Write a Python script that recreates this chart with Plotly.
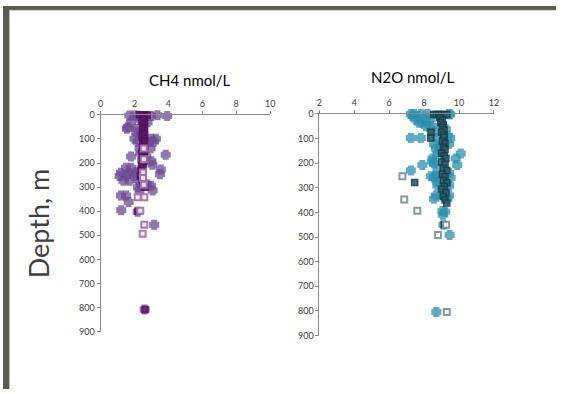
import plotly.graph_objects as go

W, H = 561, 394

# ---------------- data ----------------
# CH4 (nmol/L) vs depth (m)
ch4_mid_val = [1.7, 2.0, 2.2, 2.97, 3.35, 3.93, 1.8, 2.77, 1.6, 1.55, 2.13, 2.1, 2.0, 2.97, 3.26,
               2.2, 2.87, 3.13, 2.3, 2.95, 3.84, 1.8, 2.7, 3.0, 3.06, 1.5, 1.8, 3.55, 1.2, 1.65,
               2.05, 1.12, 1.51, 2.0, 3.5, 1.35, 1.7, 2.39, 2.97, 2.75, 3.07, 2.3, 1.2, 1.5,
               1.65, 1.22, 2.19, 3.16, 2.6, 2.35, 2.4, 2.35, 2.45, 2.3, 2.25, 2.2]
ch4_mid_dep = [3, 3, 4, 5, 2, 5, 31, 31, 51, 58, 58, 72, 99, 99, 99,
               112, 112, 112, 139, 139, 166, 173, 173, 193, 207, 220, 220, 227, 240, 240,
               240, 254, 254, 254, 247, 274, 274, 294, 294, 288, 314, 315, 335, 335,
               362, 396, 402, 456, 808, 20, 80, 160, 190, 230, 270, 300]

ch4_dark_val = [2.3, 2.45, 2.6, 2.75, 2.5, 2.55, 2.45, 2.6, 2.5, 2.55, 2.48, 2.6, 2.5, 2.55,
                2.45, 2.6, 2.5, 2.55, 2.48, 2.6, 2.5, 2.52, 2.45, 2.58, 2.5, 2.55, 2.45, 2.55,
                2.5, 2.42, 2.5, 2.4, 2.45, 2.35, 2.45, 2.5, 2.6, 2.2, 2.62]
ch4_dark_dep = [0, 0, 0, 2, 10, 18, 26, 34, 42, 50, 58, 66, 74, 82,
                90, 98, 106, 114, 122, 130, 138, 146, 154, 162, 170, 178, 186, 194,
                202, 212, 222, 232, 242, 255, 268, 282, 300, 400, 808]

ch4_open_val = [2.55, 2.55, 2.5, 2.5, 2.55, 2.19, 2.58, 2.34, 2.58, 2.48]
ch4_open_dep = [140, 184, 239, 262, 290, 342, 342, 398, 456, 494]

# N2O (nmol/L) vs depth (m)
n2o_teal_val = [7.24, 7.43, 7.81, 8.19, 9.43, 9.5, 7.33, 7.62, 7.52, 8.1, 8.38, 7.71, 7.9,
                8.1, 8.38, 8.95, 8.38, 9.24, 8.57, 9.33, 7.24, 7.81, 8.76, 9.5, 8.57, 9.43,
                8.67, 8.95, 10.1, 8.76, 8.48, 9.81, 8.46, 7.9, 8.57, 9.9, 7.24, 8.76, 9.43,
                8.38, 8.67, 8.57, 9.52, 8.76, 8.76, 9.24, 9.43, 9.14, 8.67, 9.05, 9.43,
                8.57, 9.33, 9.05, 9.21, 9.07, 9.11, 9.46, 8.7]
n2o_teal_dep = [0, 0, 0, 0, 0, 2, 10, 10, 23, 23, 23, 36, 36,
                49, 49, 49, 62, 62, 75, 89, 98, 98, 98, 98, 122, 122,
                141, 141, 161, 161, 181, 181, 194, 207, 200, 207, 230, 226, 240,
                253, 253, 259, 259, 276, 292, 292, 292, 312, 331, 331, 331,
                345, 345, 394, 397, 410, 450, 492, 804]

n2o_dark_val = [8.55, 8.7, 8.85, 9.0, 9.15, 9.3, 8.9, 9.05, 8.95, 9.1, 9.05, 9.15, 9.0, 8.4,
                9.1, 9.15, 8.38, 9.05, 9.2, 9.1, 9.2, 9.0, 9.15, 9.25, 9.0, 9.2, 9.1, 9.3,
                9.05, 9.2, 9.1, 9.3, 9.15, 9.0, 9.25, 9.1, 9.2, 9.3, 7.46, 9.15]
n2o_dark_dep = [2, 2, 2, 2, 2, 2, 15, 25, 35, 45, 55, 65, 75, 75,
                85, 95, 98, 110, 120, 135, 145, 160, 170, 180, 195, 205, 220, 230,
                245, 255, 270, 280, 295, 305, 320, 335, 350, 362, 279, 450]

n2o_open_val = [6.76, 6.86, 7.61, 9.26, 8.8, 9.3]
n2o_open_dep = [253, 348, 393, 450, 492, 804]

ch4_ticks = [0, 2, 4, 6, 8, 10]
n2o_ticks = [2, 4, 6, 8, 10, 12]
depth_ticks = [0, 100, 200, 300, 400, 500, 600, 700, 800, 900]

# ---------------- figure ----------------
def px_x(p):
    return p / W

def px_y(p):
    return 1 - p / H

fig = go.Figure()

def cross_trace(x, y, color, xa, ya):
    return go.Scatter(x=x, y=y, mode="markers", xaxis=xa, yaxis=ya, cliponaxis=False,
                      marker=dict(symbol="cross", size=5, color=color, opacity=0.75,
                                  line=dict(color=color, width=4)),
                      showlegend=False, hoverinfo="skip")

def square_trace(x, y, fill, edge, xa, ya, size=6, lw=1.5, op=0.9):
    return go.Scatter(x=x, y=y, mode="markers", xaxis=xa, yaxis=ya, cliponaxis=False,
                      marker=dict(symbol="square", size=size, color=fill, opacity=op,
                                  line=dict(color=edge, width=lw)),
                      showlegend=False, hoverinfo="skip")

# CH4
fig.add_trace(cross_trace(ch4_mid_val, ch4_mid_dep, "#6b4a92", "x", "y"))
fig.add_trace(square_trace(ch4_dark_val, ch4_dark_dep, "#6a1f78", "#55105f", "x", "y"))
fig.add_trace(square_trace(ch4_open_val, ch4_open_dep, "#f4e8f4", "#a274ad", "x", "y",
                           size=6, lw=2, op=0.95))
# N2O
fig.add_trace(cross_trace(n2o_teal_val, n2o_teal_dep, "#2a8fae", "x2", "y2"))
fig.add_trace(square_trace(n2o_dark_val, n2o_dark_dep, "#2c5e6c", "#17404b", "x2", "y2"))
fig.add_trace(square_trace(n2o_open_val, n2o_open_dep, "#ffffff", "#7d969e", "x2", "y2",
                           size=6, lw=2, op=0.95))

tickfont = dict(family="Lato, Carlito, sans-serif", size=9, color="#404040")
axcommon = dict(showline=True, linecolor="#8c8c8c", linewidth=1, ticks="outside",
                ticklen=3, tickcolor="#8c8c8c", showgrid=False, zeroline=False,
                tickfont=tickfont, fixedrange=True)

fig.update_layout(
    width=W, height=H,
    margin=dict(l=0, r=0, t=0, b=0),
    paper_bgcolor="white", plot_bgcolor="white",
    xaxis=dict(domain=[px_x(99), px_x(271)], range=[0, 10], tickvals=ch4_ticks,
               side="top", anchor="y", **axcommon),
    yaxis=dict(domain=[px_y(335), px_y(112)], range=[900, 0], tickvals=depth_ticks,
               anchor="x", **axcommon),
    xaxis2=dict(domain=[px_x(321), px_x(498)], range=[2, 12], tickvals=n2o_ticks,
                side="top", anchor="y2", **axcommon),
    yaxis2=dict(domain=[px_y(339), px_y(111)], range=[900, 0], tickvals=depth_ticks,
                anchor="x2", **axcommon),
    font=dict(family="Lato, Carlito, sans-serif"),
)

fig.add_annotation(text="CH4 nmol/L", x=px_x(190), y=px_y(76), xref="paper", yref="paper",
                   showarrow=False, xanchor="center", yanchor="middle",
                   font=dict(size=15, color="#000000"))
fig.add_annotation(text="N2O nmol/L", x=px_x(416), y=px_y(73), xref="paper", yref="paper",
                   showarrow=False, xanchor="center", yanchor="middle",
                   font=dict(size=15, color="#000000"))
fig.add_annotation(text="Depth, m", x=px_x(36), y=px_y(223), xref="paper", yref="paper",
                   showarrow=False, xanchor="center", yanchor="middle", textangle=-90,
                   font=dict(size=27, color="#404040"))

# slide frame (dark border left & top)
fig.add_shape(type="rect", xref="paper", yref="paper", x0=0, x1=px_x(6.5), y0=0, y1=1,
              fillcolor="#5b5b4f", line=dict(width=0), layer="above")
fig.add_shape(type="rect", xref="paper", yref="paper", x0=0, x1=1, y0=px_y(4), y1=1,
              fillcolor="#5b5b4f", line=dict(width=0), layer="above")
fig.add_shape(type="line", xref="paper", yref="paper", x0=px_x(6.5), x1=1, y0=px_y(4.5),
              y1=px_y(4.5), line=dict(color="#c9c9c0", width=1), layer="above")

fig.write_html("out.html",
               config={"displayModeBar": False},
               post_script="document.body.style.margin='0';"
                           "document.body.style.overflow='hidden';")
